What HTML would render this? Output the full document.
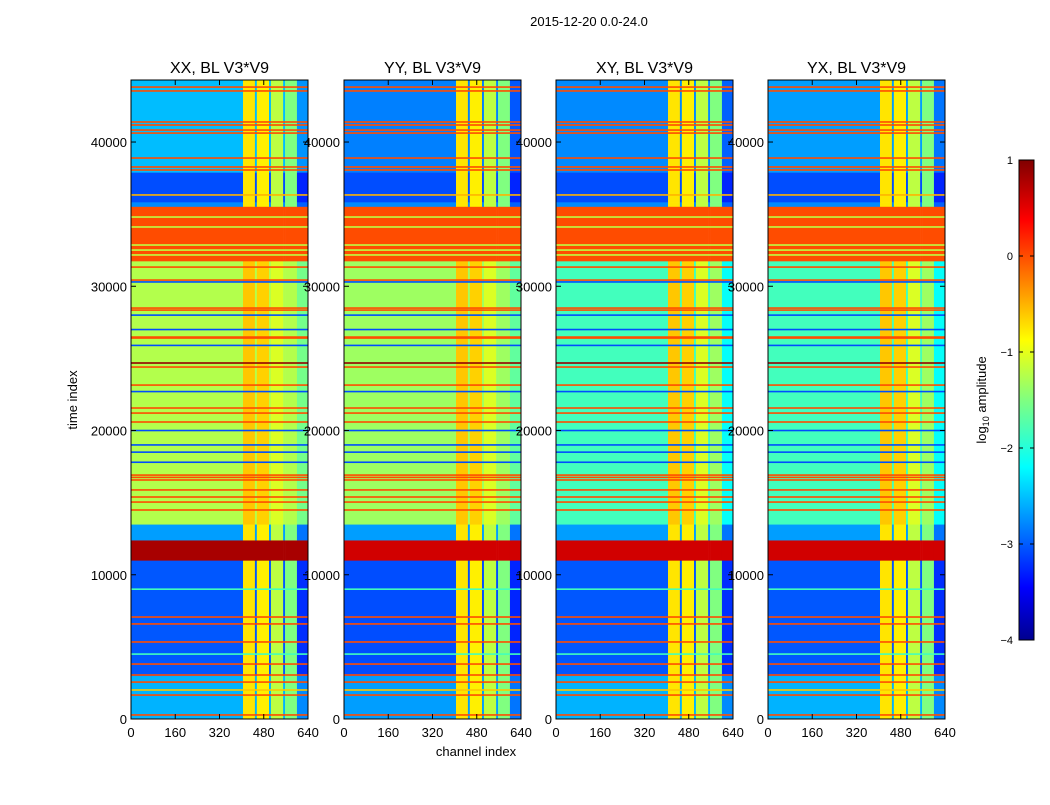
<!DOCTYPE html>
<html><head><meta charset="utf-8"><style>
body{margin:0;background:#fff;font-family:"Liberation Sans",sans-serif}
svg text{font-family:"Liberation Sans",sans-serif}
</style></head><body>
<svg id="fig" width="1050" height="800" xmlns="http://www.w3.org/2000/svg">
<rect width="1050" height="800" fill="#fff"/>
<text x="589" y="26" font-size="13" text-anchor="middle">2015-12-20 0.0-24.0</text>
<g id="panels"></g>
<defs><linearGradient id="jet" x1="0" y1="1" x2="0" y2="0">
<stop offset="0" stop-color="#00008f"/><stop offset="0.11" stop-color="#0000ff"/><stop offset="0.36" stop-color="#00ffff"/><stop offset="0.5" stop-color="#80ff80"/><stop offset="0.625" stop-color="#ffff00"/><stop offset="0.875" stop-color="#ff0000"/><stop offset="1" stop-color="#800000"/></linearGradient></defs>
<g id="cbar">
<rect x="1019" y="160" width="15" height="480" fill="url(#jet)" stroke="#000" stroke-width="1"/>
</g>
<text transform="translate(986,400) rotate(-90)" font-size="13" text-anchor="middle">log<tspan font-size="9" dy="3">10</tspan><tspan dy="-3"> amplitude</tspan></text>
<text transform="translate(77,400) rotate(-90)" font-size="13" text-anchor="middle">time index</text>
<text x="476" y="756" font-size="13" text-anchor="middle">channel index</text>
</svg>
<script>
const panelTitles=["XX, BL V3*V9","YY, BL V3*V9","XY, BL V3*V9","YX, BL V3*V9"];
const xTicks=[0,160,320,480,640];
const yTicks=[0,10000,20000,30000,40000];
const cbTicks=[1,0,-1,-2,-3,-4];
// band boundaries [t0,t1] and per-panel values
const bandT0=[0,3000,11000,12400,13500,31750,35530,35840,37900];
const bandT1=[3000,11000,12400,13500,31750,35530,35840,37900,44300];
const bandXX=[-2.5,-2.95,0.8,-2.6,-1.25,0,-2.7,-3.0,-2.45];
const bandYY=[-2.6,-3.0,0.6,-2.6,-1.35,0,-2.7,-3.0,-2.75];
const bandXY=[-2.5,-2.95,0.6,-2.6,-1.8,0,-2.7,-3.0,-2.7];
const bandYX=[-2.5,-2.95,0.6,-2.6,-1.8,0,-2.7,-3.0,-2.6];
// RFI lines (time, value)
const lineT=[280,1660,2010,2560,3050,3810,5340,6590,7070,14490,15040,15390,15880,16570,16750,16910,20590,21210,21560,23150,24400,24680,26410,26480,28350,28490,30430,31330,36330,38060,38270,38890,40620,40830,41180,41390,43540,43810,34800,34110,32860,32510,32170,30300,28000,27000,25900,22700,20000,19000,18500,17800,9000,4500];
const lineV=[0,0,-0.6,0,0,0,0,0,0,0,0,0,0,0,0,0,0,0,0,0,0,0.9,0,0,0,0,0,0,-0.5,0,0,0,0,0,0,0,0,0,-1.2,-1.2,-1.2,-1.2,-1.2,-3,-3,-3,-3,-3,-3,-3,-3,-3,-1.8,-1.8];
// channel stripes
const stripeC0=[405,455,506,557];
const stripeC1=[448,499,550,600];
const stripeV=[-0.75,-0.8,-1.2,-1.5];
const edgeC0=600, edgeDelta=-0.5;

const X0=[131,344,556,768], PW=177, PY0=80, PY1=719, TMAX=44300, CMAX=640;
const bandsAll=[bandXX,bandYY,bandXY,bandYX];
function jet(v){let t=(v+4)/5;t=Math.max(0,Math.min(1,t));
 const c=x=>Math.round(255*Math.max(0,Math.min(1,x)));
 return `rgb(${c(1.5-Math.abs(4*t-3))},${c(1.5-Math.abs(4*t-2))},${c(1.5-Math.abs(4*t-1))})`;}
const NS="http://www.w3.org/2000/svg";
function mk(tag,attrs,parent){const e=document.createElementNS(NS,tag);for(const k in attrs)e.setAttribute(k,attrs[k]);parent.appendChild(e);return e;}
const G=document.getElementById('panels');
bandsAll.forEach((bv,p)=>{
 const x0=X0[p];
 const xs=c=>x0+c/CMAX*PW;
 const ys=t=>PY1-t/TMAX*(PY1-PY0);
 const g=mk('g',{},G);
 
 
 function cellV(base,c0,c1){let v=base;
  for(let i=0;i<stripeC0.length;i++){if(c0>=stripeC0[i]&&c1<=stripeC1[i]){v=Math.max(v,stripeV[i]+(base>-2?0.15:0));}}
  if(c0>=edgeC0&&base<-0.5)v=base+edgeDelta*(base>-2?0.6:0.4);
  return v;}
 const segs=[[0,405],[405,448],[448,455],[455,499],[499,506],[506,550],[550,557],[557,600],[600,640]];
 for(let b=0;b<bandT0.length;b++){
  segs.forEach(s=>{const v=cellV(bv[b],s[0],s[1]);
   const r=mk('rect',{x:xs(s[0]),y:ys(bandT1[b]),width:xs(s[1])-xs(s[0])+0.3,height:ys(bandT0[b])-ys(bandT1[b])+0.3,fill:jet(v)},g);
   
   });
 }
 lineT.forEach((t,i)=>{
  const r=mk('rect',{x:xs(0),y:ys(t)-0.8,width:PW,height:1.6,fill:jet(lineV[i])},g);
  
  });
 mk('rect',{x:x0,y:PY0,width:PW,height:PY1-PY0,fill:'none',stroke:'#000','stroke-width':1},g);
 const tt=mk('text',{x:x0+PW/2,y:73,'font-size':16,'text-anchor':'middle'},g);tt.textContent=panelTitles[p];
 
 
 xTicks.forEach(c=>{mk('line',{x1:xs(c),x2:xs(c),y1:PY1,y2:PY1-5,stroke:'#000'},g);mk('line',{x1:xs(c),x2:xs(c),y1:PY0,y2:PY0+5,stroke:'#000'},g);
  const t=mk('text',{x:xs(c),y:737,'font-size':13,'text-anchor':'middle'},g);t.textContent=c;
  
  });
 yTicks.forEach(v=>{mk('line',{x1:x0,x2:x0+5,y1:ys(v),y2:ys(v),stroke:'#000'},g);mk('line',{x1:x0+PW,x2:x0+PW-5,y1:ys(v),y2:ys(v),stroke:'#000'},g);
  const t=mk('text',{x:x0-4,y:ys(v)+5,'font-size':13,'text-anchor':'end'},g);t.textContent=v;
  
  });
});
const CB=document.getElementById('cbar');
cbTicks.forEach(v=>{const y=160+(1-v)/5*480;
 mk('line',{x1:1019,x2:1023,y1:y,y2:y,stroke:'#000'},CB);mk('line',{x1:1034,x2:1030,y1:y,y2:y,stroke:'#000'},CB);
 const t=mk('text',{x:1013,y:y+4,'font-size':11,'text-anchor':'end'},CB);t.textContent=v===0?'0':(v<0?'\u2212'+(-v):v);
 
 });
</script>
</body></html>
